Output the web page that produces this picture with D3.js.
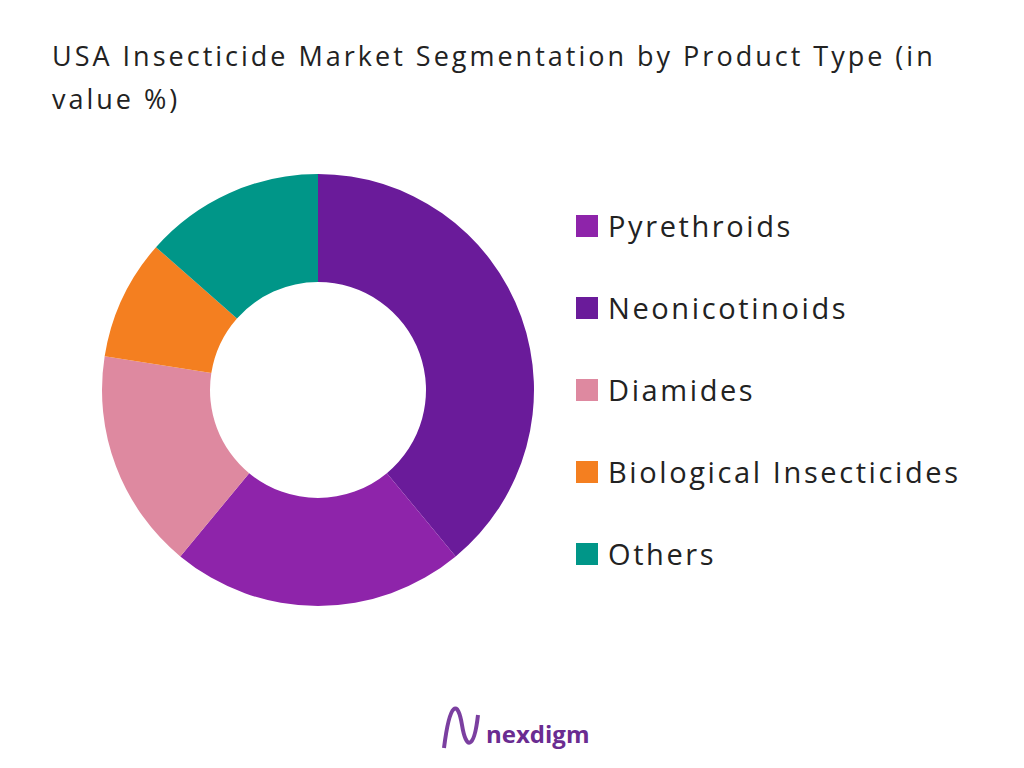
<!DOCTYPE html>
<html><head><meta charset="utf-8">
<script src="https://cdn.jsdelivr.net/npm/d3@7"></script>
<style>body{margin:0;background:#fff;font-family:"Open Sans",sans-serif}</style>
</head><body><div id="chart"></div>
<script>
// slice order as drawn clockwise from 12 o'clock
var sliceNames = ["Neonicotinoids", "Pyrethroids", "Diamides", "Biological Insecticides", "Others"];
var sliceValues = [39, 22, 16.5, 9, 13.5];
var sliceColors = ["#6a1b9a", "#8e24aa", "#de89a0", "#f47f20", "#009688"];
// legend order
var legendNames = ["Pyrethroids", "Neonicotinoids", "Diamides", "Biological Insecticides", "Others"];

var width = 1024, height = 768;
var svg = d3.select("#chart").append("svg").attr("width", width).attr("height", height);

svg.append("text").attr("x", 52).attr("y", 66).attr("font-size", 27).attr("fill", "#222")
  .attr("letter-spacing", 3).text("USA Insecticide Market Segmentation by Product Type (in");
svg.append("text").attr("x", 52).attr("y", 109).attr("font-size", 27).attr("fill", "#222")
  .attr("letter-spacing", 3).text("value %)");

var color = d3.scaleOrdinal().domain(sliceNames).range(sliceColors);
var pie = d3.pie().sort(null).value(function(d, i) { return sliceValues[i]; });
var arc = d3.arc().innerRadius(108).outerRadius(216);

var g = svg.append("g").attr("transform", "translate(318,390)");
g.selectAll("path").data(pie(sliceNames)).enter().append("path")
  .attr("d", arc)
  .attr("fill", function(d) { return color(d.data); });

var leg = svg.selectAll(".leg").data(legendNames).enter().append("g")
  .attr("transform", function(d, i) { return "translate(576," + (226 + i * 82) + ")"; });
leg.append("rect").attr("x", 0).attr("y", -11).attr("width", 22).attr("height", 22)
  .attr("fill", function(d) { return color(d); });
leg.append("text").attr("x", 32).attr("y", 11).attr("font-size", 29).attr("fill", "#222")
  .attr("letter-spacing", 2.6).text(function(d) { return d; });

// logo
svg.append("path").attr("d", "M444,748 C450,700 458,700 462,725 C466,750 474,750 478,715")
  .attr("fill", "none").attr("stroke", "#7b3fa0").attr("stroke-width", 4);
svg.append("text").attr("x", 486).attr("y", 743).attr("font-size", 24).attr("font-weight", "bold")
  .attr("fill", "#6a2c91").text("nexdigm");
</script></body></html>
